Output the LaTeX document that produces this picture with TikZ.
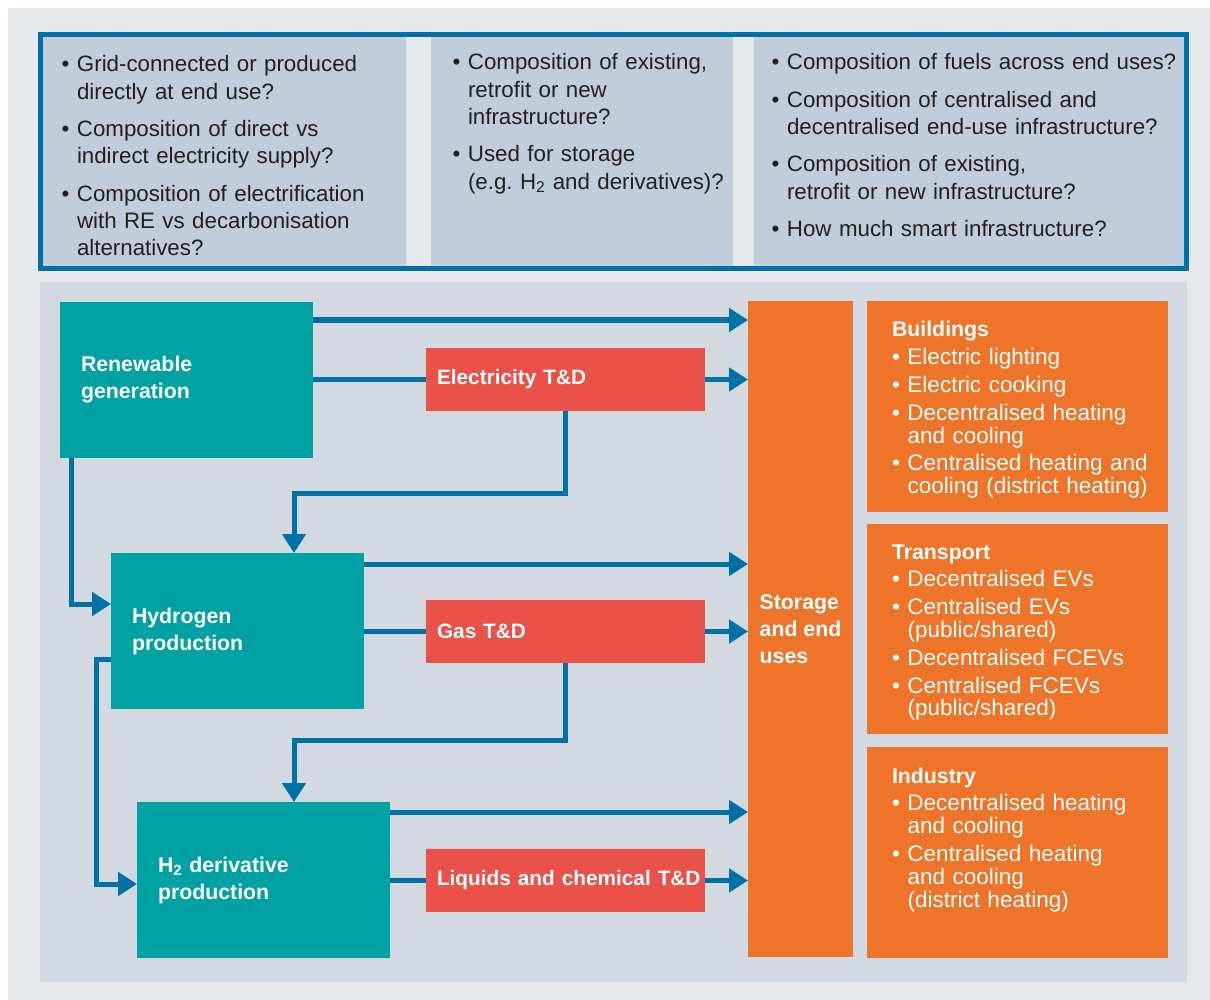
\documentclass[tikz,border=0pt]{standalone}
\usepackage{fontspec}
\setmainfont{Liberation Sans}
\usetikzlibrary{calc, positioning, arrows.meta}
\frenchspacing

\definecolor{pagegray}{RGB}{230,232,236}
\definecolor{panelblue}{RGB}{193,205,218}
\definecolor{flowgray}{RGB}{210,217,225}
\definecolor{flowblue}{RGB}{0,113,167}
\definecolor{h2teal}{RGB}{0,161,163}
\definecolor{tdred}{RGB}{234,81,72}
\definecolor{useorange}{RGB}{238,116,41}
\definecolor{inkgray}{RGB}{35,31,32}

\newcommand\qfirst[1]{\noindent\hangindent=15.5pt\hangafter=1\makebox[15.5pt][l]{\textbullet}#1}
\newcommand\qitem[1]{\par\qfirst{#1}}

\begin{document}
\begin{tikzpicture}[x=1pt, y=-1pt,
  nwbox/.style={anchor=north west, inner sep=0pt, outer sep=0pt},
  qpanel/.style={nwbox, fill=panelblue, minimum height=229pt},
  qlist/.style={anchor=base west, inner sep=0pt, outer sep=0pt, align=left, text=inkgray,
    font=\fontsize{22.3}{27.3}\selectfont, execute at begin node={\setlength{\parskip}{10pt}}},
  srcbox/.style={nwbox, fill=h2teal, minimum width=253pt, minimum height=156pt, text width=211pt,
    inner xsep=21pt, align=left, text=white, font=\fontsize{21.3}{27}\selectfont\bfseries},
  tdbox/.style={nwbox, fill=tdred, minimum width=279pt, minimum height=63pt, text width=257pt,
    inner xsep=11pt, align=left, text=white, font=\fontsize{20.8}{27}\selectfont\bfseries},
  usebox/.style={nwbox, fill=useorange, minimum width=301pt, minimum height=211pt},
  uselist/.style={anchor=base west, inner sep=0pt, outer sep=0pt, text width=272pt, align=left, text=white,
    font=\fontsize{22.5}{22.8}\selectfont, execute at begin node={\setlength{\parskip}{5pt}}},
  flowline/.style={draw=flowblue, line width=5pt},
  flowarrow/.style={flowline, -{Triangle[length=19pt,width=23pt]}}]

  \useasboundingbox (0,0) rectangle (1210,1000);
  \fill[white] (0,0) rectangle (1210,1000);

  \node[nwbox, fill=pagegray, minimum width=1202pt, minimum height=992pt] (page) at (8,8) {};
  \node[nwbox, fill=flowgray, minimum width=1147pt, minimum height=700pt] (flowbg) at (40,282) {};

  \node[qpanel, minimum width=363pt] (q1) at (43,37) {};
  \node[qpanel, minimum width=302pt] (q2) at (431,37) {};
  \node[qpanel, minimum width=430pt] (q3) at (754,37) {};
  \node[nwbox, draw=flowblue, line width=5pt, minimum width=1146pt, minimum height=234pt] (qframe) at (40.5,34.5) {};

  \node[qlist, text width=335pt] (q1list) at ($(q1.north west)+(18.5,35)$)
    {\qfirst{Grid-connected or produced\newline directly at end use?}\qitem{Composition of direct vs\newline indirect electricity supply?}\qitem{Composition of electrification\newline with RE vs decarbonisation\newline alternatives?}\par};
  \node[qlist, text width=280pt] (q2list) at ($(q2.north west)+(21.5,33)$)
    {\qfirst{Composition of existing,\newline retrofit or new\newline infrastructure?}\qitem{Used for storage\newline (e.g. H\textsubscript{2} and derivatives)?}\par};
  \node[qlist, text width=425pt] (q3list) at ($(q3.north west)+(17.5,33)$)
    {\qfirst{Composition of fuels across end uses?}\qitem{Composition of centralised and\newline decentralised end-use infrastructure?}\qitem{Composition of existing,\newline retrofit or new infrastructure?}\qitem{How much smart infrastructure?}\par};

  \node[srcbox] (rg) at (60,302) {Renewable\\generation};
  \node[srcbox] (h2p) at (111,553) {Hydrogen\\production};
  \node[srcbox] (h2d) at (137,802) {H\textsubscript{2} derivative\\production};

  \node[tdbox] (etd) at (426,348) {Electricity T\&D};
  \node[tdbox] (gtd) at (426,600) {Gas T\&D};
  \node[tdbox] (ltd) at (426,849) {\mbox{Liquids and chemical T\&D}};

  \node[nwbox, fill=useorange, minimum width=105pt, minimum height=656pt, align=left, text=white,
    font=\fontsize{21.3}{27}\selectfont\bfseries] (seu) at (748,301) {Storage\\and end\\uses};

  \node[usebox] (bld) at (867,301) {};
  \node[usebox, minimum height=210pt] (trn) at (867,524) {};
  \node[usebox] (ind) at (867,747) {};

  \node[uselist] (bldlist) at ($(bld.north west)+(25,36)$)
    {\noindent{\fontsize{21.3}{22.8}\selectfont\bfseries Buildings}\qitem{Electric lighting}\qitem{Electric cooking}\qitem{Decentralised heating\newline and cooling}\qitem{Centralised heating and\newline cooling (district heating)}\par};
  \node[uselist] (trnlist) at ($(trn.north west)+(25,35)$)
    {\noindent{\fontsize{21.3}{22.8}\selectfont\bfseries Transport}\qitem{Decentralised EVs}\qitem{Centralised EVs\newline (public/shared)}\qitem{Decentralised FCEVs}\qitem{Centralised FCEVs\newline (public/shared)}\par};
  \node[uselist] (indlist) at ($(ind.north west)+(25,36)$)
    {\noindent{\fontsize{21.3}{22.8}\selectfont\bfseries Industry}\qitem{Decentralised heating\newline and cooling}\qitem{Centralised heating\newline and cooling\newline (district heating)}\par};

  \coordinate (rgtop) at ($(rg.north east)+(0,18)$);
  \draw[flowarrow] (rgtop) -- (rgtop -| seu.west);
  \draw[flowline] (etd.west -| rg.east) -- (etd.west);
  \draw[flowarrow] (etd.east) -- (etd.east -| seu.west);
  \coordinate (h2pin) at ($(h2p.north west)+(183,0)$);
  \draw[flowarrow] (etd.south) |- ($(h2pin)+(0,-60)$) -- (h2pin);
  \coordinate (rgdown) at ($(rg.south west)+(11,0)$);
  \coordinate (h2pleft) at ($(h2p.north west)+(0,51)$);
  \draw[flowarrow] (rgdown) |- (h2pleft);

  \coordinate (h2ptop) at ($(h2p.north east)+(0,11)$);
  \draw[flowarrow] (h2ptop) -- (h2ptop -| seu.west);
  \draw[flowline] (h2p.east) -- (h2p.east -| gtd.west);
  \draw[flowarrow] (gtd.east) -- (gtd.east -| seu.west);
  \coordinate (h2din) at ($(h2d.north west)+(157,0)$);
  \draw[flowarrow] (gtd.south) |- ($(h2din)+(0,-62)$) -- (h2din);
  \coordinate (h2pout) at ($(h2p.north west)+(0,106)$);
  \coordinate (h2dleft) at ($(h2d.north west)+(0,82)$);
  \draw[flowarrow] (h2pout) -- ++(-15,0) |- (h2dleft);

  \coordinate (h2dtop) at ($(h2d.north east)+(0,10)$);
  \draw[flowarrow] (h2dtop) -- (h2dtop -| seu.west);
  \draw[flowline] (h2d.east) -- (h2d.east -| ltd.west);
  \draw[flowarrow] (ltd.east) -- (ltd.east -| seu.west);
\end{tikzpicture}
\end{document}
